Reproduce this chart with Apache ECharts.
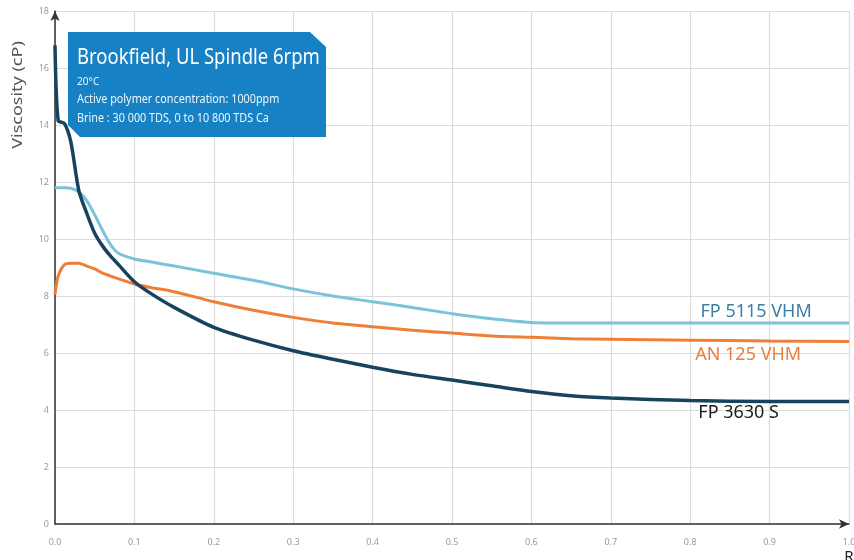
<!DOCTYPE html>
<html>
<head>
<meta charset="utf-8">
<title>Viscosity vs R</title>
<script src="https://cdn.jsdelivr.net/npm/echarts@6/dist/echarts.min.js"></script>
<style>
  html, body { margin: 0; padding: 0; background: #fff; }
  #chart { width: 854px; height: 560px; }
</style>
</head>
<body>
<div id="chart"></div>
<script type="text/javascript">
    // R values (x axis)
    var rValues = [0, 0.004, 0.012, 0.02, 0.03, 0.04, 0.05, 0.06, 0.07, 0.08, 0.1, 0.12, 0.15,
        0.2, 0.25, 0.3, 0.35, 0.4, 0.45, 0.5, 0.55, 0.6, 0.65, 0.7, 0.8, 0.9, 1.0];

    // viscosity (cP) per polymer
    var fp5115 = [11.8, 11.8, 11.8, 11.78, 11.65, 11.35, 10.85, 10.3, 9.8, 9.5, 9.3, 9.2, 9.05,
        8.8, 8.55, 8.25, 8.0, 7.8, 7.6, 7.38, 7.2, 7.07, 7.05, 7.05, 7.05, 7.05, 7.05];
    var an125 = [8.05, 8.7, 9.1, 9.15, 9.15, 9.05, 8.95, 8.8, 8.7, 8.6, 8.42, 8.3, 8.15,
        7.8, 7.5, 7.25, 7.05, 6.92, 6.8, 6.7, 6.6, 6.55, 6.5, 6.48, 6.45, 6.42, 6.4];
    var fp3630 = [16.8, 14.15, 14.05, 13.4, 11.7, 10.9, 10.2, 9.75, 9.4, 9.1, 8.5, 8.1, 7.6,
        6.9, 6.45, 6.08, 5.78, 5.5, 5.25, 5.05, 4.85, 4.65, 4.5, 4.42, 4.33, 4.3, 4.3];

    var xTicks = ['0.0', '0.1', '0.2', '0.3', '0.4', '0.5', '0.6', '0.7', '0.8', '0.9', '1.0'];
    var yTicks = [0, 2, 4, 6, 8, 10, 12, 14, 16, 18];

    function pairs(ys) {
        var out = [];
        for (var i = 0; i < rValues.length; i++) {
            out.push([rValues[i], ys[i]]);
        }
        return out;
    }

    function lineSeries(name, ys, color, width, labelCoord, labelColor) {
        return {
            name: name,
            type: 'line',
            data: pairs(ys),
            smooth: 0.25,
            showSymbol: false,
            lineStyle: { color: color, width: width },
            itemStyle: { color: color },
            markPoint: {
                silent: true,
                symbol: 'circle',
                symbolSize: 1,
                itemStyle: { color: 'rgba(0,0,0,0)' },
                label: {
                    show: true,
                    position: 'inside',
                    formatter: name,
                    color: labelColor,
                    fontSize: 18,
                    fontFamily: 'Noto Sans'
                },
                data: [{ coord: labelCoord }]
            }
        };
    }

    var chart = echarts.init(document.getElementById('chart'));

    var option = {
        animation: false,
        backgroundColor: '#fff',
        textStyle: { fontFamily: 'Noto Sans' },
        grid: { left: 55, right: 5, top: 11, bottom: 36, outerBoundsMode: 'none', containLabel: false },
        xAxis: {
            type: 'value',
            min: 0,
            max: 1,
            interval: 0.1,
            name: 'R',
            nameLocation: 'end',
            nameGap: 0,
            nameMoveOverlap: false,
            nameTextStyle: {
                color: '#222', fontSize: 15, align: 'center', verticalAlign: 'top',
                padding: [25, 0, 0, 0]
            },
            axisLine: {
                lineStyle: { color: '#333', width: 1.5 },
                symbol: ['none', 'arrow'],
                symbolSize: [7, 10]
            },
            axisTick: { show: false },
            axisLabel: {
                color: '#9a9a9a', fontSize: 9, margin: 14,
                formatter: function (v) { return xTicks[Math.round(v * 10)]; }
            },
            splitLine: { show: true, lineStyle: { color: '#dcdcdc', width: 1.2 } }
        },
        yAxis: {
            type: 'value',
            min: 0,
            max: 18,
            interval: 2,
            axisLine: {
                show: true,
                lineStyle: { color: '#333', width: 1.5 },
                symbol: ['none', 'arrow'],
                symbolSize: [7, 10]
            },
            axisTick: { show: false },
            axisLabel: {
                color: '#9a9a9a', fontSize: 9, margin: 6,
                formatter: function (v) { return yTicks.indexOf(v) >= 0 ? String(v) : ''; }
            },
            splitLine: { show: true, lineStyle: { color: '#dcdcdc', width: 1.2 } }
        },
        graphic: [
            {
                type: 'text',
                x: 18,
                y: 95,
                rotation: Math.PI / 2,
                scaleX: 1.2,
                style: {
                    text: 'Viscosity (cP)',
                    fill: '#555',
                    fontSize: 15,
                    fontFamily: 'Noto Sans',
                    align: 'center',
                    verticalAlign: 'middle'
                }
            },
            {
                type: 'polygon',
                shape: { points: [[68, 32], [310, 32], [326, 47], [326, 137], [80, 137], [68, 125]] },
                style: { fill: '#1681c4' },
                z: 10
            },
            {
                type: 'text', x: 77, y: 69, scaleX: 0.84, z: 11,
                style: {
                    text: 'Brookfield, UL Spindle 6rpm', fill: '#fff', fontSize: 22,
                    fontFamily: 'Noto Sans', verticalAlign: 'bottom'
                }
            },
            {
                type: 'text', x: 77, y: 87, scaleX: 0.92, z: 11,
                style: {
                    text: '20°C', fill: '#eef6fb', fontSize: 11,
                    fontFamily: 'Noto Sans', verticalAlign: 'bottom'
                }
            },
            {
                type: 'text', x: 77, y: 106, scaleX: 0.9, z: 11,
                style: {
                    text: 'Active polymer concentration: 1000ppm', fill: '#eef6fb', fontSize: 12,
                    fontFamily: 'Noto Sans', verticalAlign: 'bottom'
                }
            },
            {
                type: 'text', x: 77, y: 125, scaleX: 0.9, z: 11,
                style: {
                    text: 'Brine : 30 000 TDS, 0 to 10 800 TDS Ca', fill: '#eef6fb', fontSize: 12,
                    fontFamily: 'Noto Sans', verticalAlign: 'bottom'
                }
            }
        ],
        series: [
            lineSeries('FP 5115 VHM', fp5115, '#79c3db', 3, [0.883, 7.44], '#3b7ea7'),
            lineSeries('AN 125 VHM', an125, '#ef7f38', 3, [0.873, 5.93], '#e8803f'),
            lineSeries('FP 3630 S', fp3630, '#18435f', 3.5, [0.861, 3.9], '#1c1c1c')
        ]
    };

    chart.setOption(option);
</script>
</body>
</html>
